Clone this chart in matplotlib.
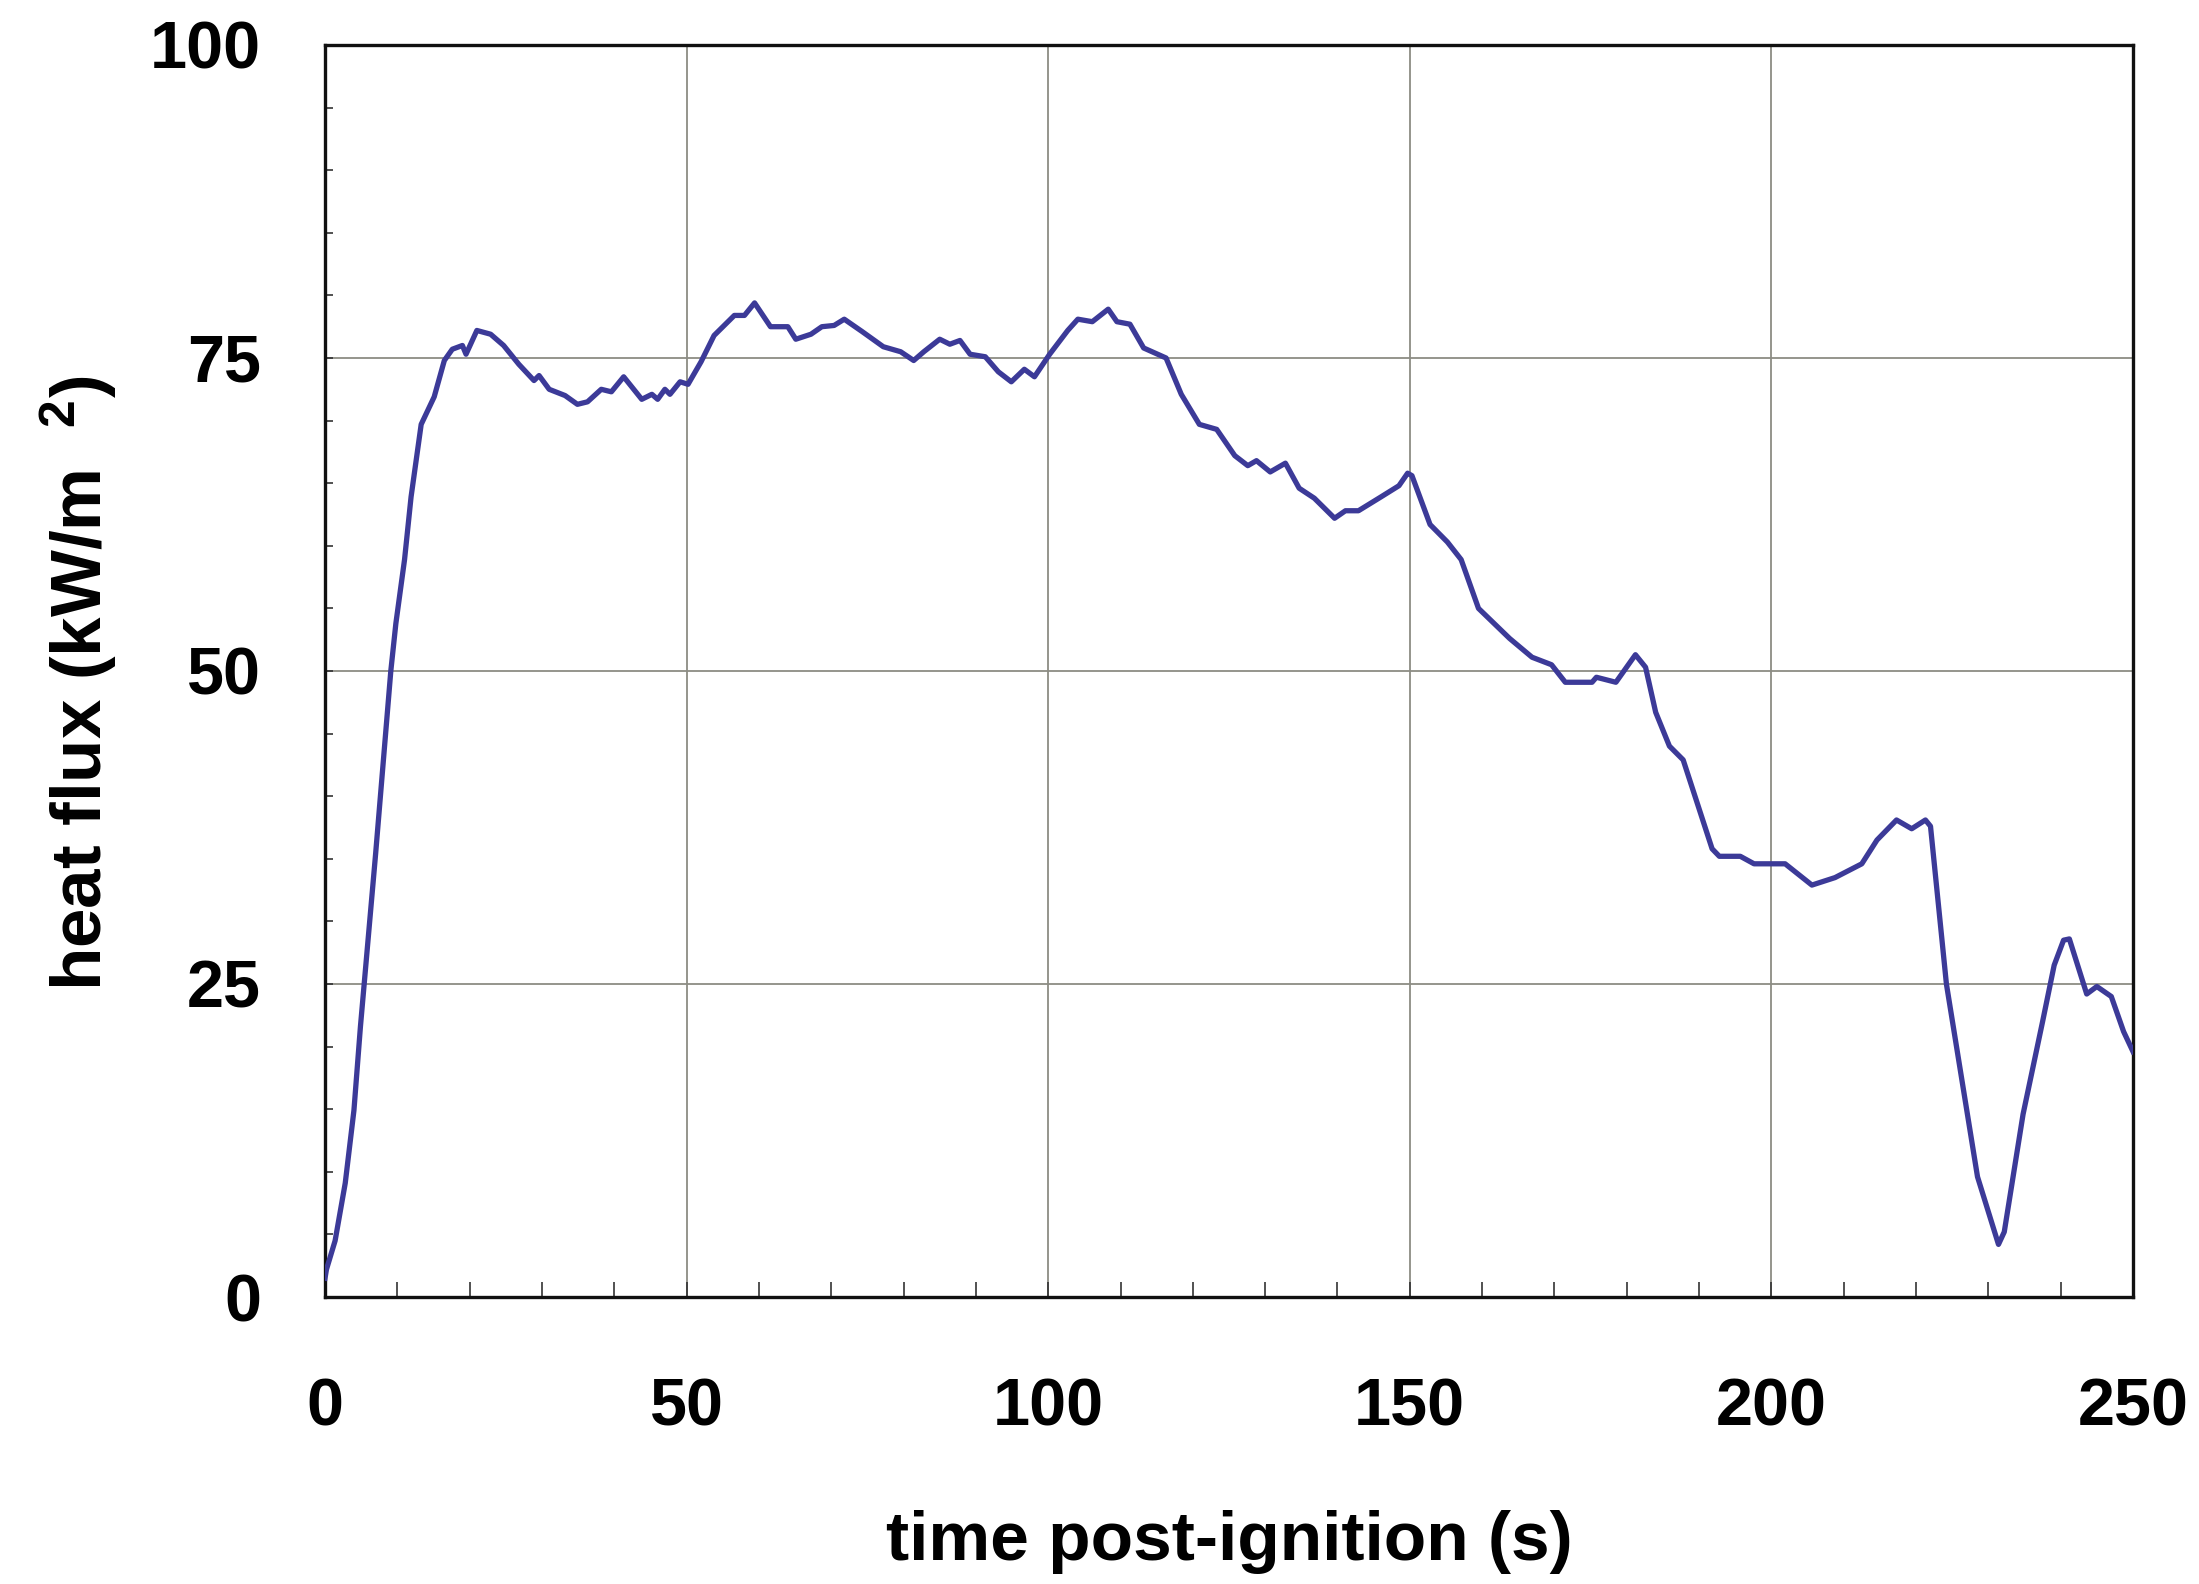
import matplotlib
matplotlib.use("Agg")
import matplotlib.pyplot as plt
from matplotlib.ticker import MultipleLocator

# ---- data ----
time_s = [0, 0.2, 1.4, 2.8, 4.0, 4.9, 5.6, 7.0, 8.2, 9.1, 9.8, 11.0, 11.9, 13.3,
          15.1, 16.5, 17.6, 19.0, 19.5, 21.0, 22.9, 24.7, 26.8, 28.9, 29.6, 31.0,
          33.2, 34.9, 36.3, 38.2, 39.6, 41.3, 43.8, 45.2, 46.0, 47.0, 47.7, 49.1,
          50.2, 52.0, 53.8, 56.6, 58.0, 59.4, 61.6, 64.0, 65.1, 67.2, 68.7, 70.4,
          71.8, 74.3, 77.2, 79.6, 81.4, 82.8, 85.0, 86.4, 87.8, 89.2, 91.3, 93.1,
          94.9, 96.7, 98.1, 100.2, 102.7, 104.1, 106.1, 108.3, 109.5, 111.3, 113.2,
          116.3, 118.4, 120.9, 123.3, 125.8, 127.6, 128.8, 130.7, 132.8, 134.7,
          136.8, 139.6, 141.1, 142.9, 146.0, 148.5, 149.7, 150.3, 152.8, 155.2,
          157.1, 159.5, 163.8, 166.9, 169.6, 171.5, 175.2, 175.8, 178.5, 181.2,
          182.6, 184.0, 185.9, 187.8, 191.8, 192.8, 195.7, 197.6, 201.9, 205.6,
          208.8, 212.5, 214.6, 217.3, 219.4, 221.3, 222.0, 224.2, 228.5, 231.4,
          232.2, 234.8, 237.5, 239.1, 240.4, 241.2, 243.6, 245.0, 247.0, 248.7,
          250.0]
heat_flux = [1.5, 2.2, 4.5, 9.1, 14.9, 21.6, 26.2, 35.4, 43.8, 50.0, 53.8, 58.9,
             63.9, 69.7, 71.9, 74.8, 75.7, 76.0, 75.3, 77.2, 76.9, 76.0, 74.5,
             73.2, 73.6, 72.5, 72.0, 71.3, 71.5, 72.5, 72.3, 73.5, 71.7, 72.1,
             71.7, 72.5, 72.1, 73.1, 72.9, 74.7, 76.8, 78.4, 78.4, 79.4, 77.5,
             77.5, 76.5, 76.9, 77.5, 77.6, 78.1, 77.1, 75.9, 75.5, 74.8, 75.5,
             76.5, 76.1, 76.4, 75.3, 75.1, 73.9, 73.1, 74.1, 73.5, 75.3, 77.2,
             78.1, 77.9, 78.9, 77.9, 77.7, 75.8, 75.0, 72.1, 69.7, 69.3, 67.2,
             66.4, 66.8, 65.9, 66.6, 64.6, 63.8, 62.2, 62.8, 62.8, 63.9, 64.8,
             65.8, 65.6, 61.7, 60.3, 58.9, 55.0, 52.6, 51.1, 50.5, 49.1, 49.1,
             49.5, 49.1, 51.3, 50.3, 46.7, 44.0, 42.9, 35.8, 35.2, 35.2, 34.6,
             34.6, 32.9, 33.5, 34.6, 36.5, 38.1, 37.4, 38.1, 37.6, 25.0, 9.6, 4.2,
             5.2, 14.6, 22.0, 26.5, 28.5, 28.6, 24.2, 24.8, 24.0, 21.2, 19.6]

x_ticks = [0, 50, 100, 150, 200, 250]
y_ticks = [0, 25, 50, 75, 100]
x_label = "time post-ignition (s)"
y_label = r"heat flux (kW/m  $^{2}$)"

# ---- style ----
plt.rcParams["font.family"] = ["Liberation Sans", "DejaVu Sans"]
plt.rcParams["font.weight"] = "bold"
plt.rcParams["mathtext.fontset"] = "custom"
plt.rcParams["mathtext.rm"] = "Liberation Sans:bold"
plt.rcParams["mathtext.bf"] = "Liberation Sans:bold"
plt.rcParams["mathtext.default"] = "rm"

fig = plt.figure(figsize=(21.99, 15.84), dpi=100)
ax = fig.add_axes([325 / 2199, (1584 - 1297) / 1584, (2133 - 325) / 2199, (1297 - 45) / 1584])

ax.plot(time_s, heat_flux, color="#3c3a98", linewidth=3.8, zorder=3,
        solid_joinstyle="round")

ax.set_xlim(0, 250)
ax.set_ylim(0, 100)
ax.set_xticks(x_ticks)
ax.set_yticks(y_ticks)
ax.xaxis.set_minor_locator(MultipleLocator(10))
ax.yaxis.set_minor_locator(MultipleLocator(5))

ax.grid(True, which="major", color="#8c8c84", linewidth=1.3, zorder=1)

ax.tick_params(axis="x", which="both", direction="in", length=11, width=1.2,
               color="#333333", labelsize=48, pad=58, top=False)
ax.tick_params(axis="y", which="both", direction="in", length=6, width=1.2,
               color="#333333", labelsize=48, pad=46, right=False)
for lab in ax.get_xticklabels() + ax.get_yticklabels():
    lab.set_fontweight("bold")

for sp in ax.spines.values():
    sp.set_linewidth(2.4)
    sp.set_color("#111111")

ax.set_xlabel(x_label, fontsize=50, fontweight="bold")
ax.set_ylabel(y_label, fontsize=51, fontweight="bold")
ax.xaxis.set_label_coords(0.5, -0.17)
ax.yaxis.set_label_coords(-0.114, 0.49)

fig.savefig("out.png", dpi=100, facecolor="white")
